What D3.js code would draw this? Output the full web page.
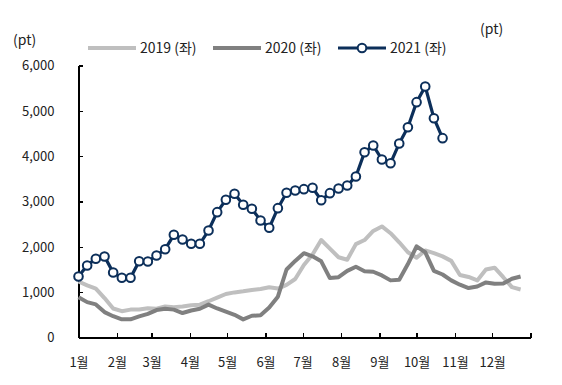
<!DOCTYPE html>
<html>
<meta charset="utf-8">
<style>
    body { margin: 0; background: #fff; }
    svg text { font-family: "Noto Sans CJK KR", "Noto Sans", sans-serif; fill: #222; }
    .axis path, .axis line { fill: none; stroke: #000; stroke-width: 1.2; shape-rendering: crispEdges; }
</style>
<body>
<script src="https://d3js.org/d3.v7.min.js"></script>
<script>

    // weekly index values (pt), first week starts 1 Jan
    var s2019 = [1235, 1150, 1080, 870, 640, 580, 615, 620, 645, 635, 685, 670, 685, 710, 725, 800,
                 880, 960, 995, 1020, 1050, 1070, 1110, 1080, 1160, 1290, 1600, 1830, 2150, 1960, 1770, 1715,
                 2060, 2150, 2350, 2450, 2300, 2100, 1880, 1760, 1920, 1860, 1790, 1690, 1380, 1335, 1260, 1500,
                 1540, 1330, 1110, 1060];
    var s2020 = [890, 780, 730, 560, 470, 400, 400, 465, 520, 605, 635, 615, 540, 595, 635, 725,
                 640, 570, 500, 400, 480, 490, 660, 900, 1500, 1690, 1860, 1790, 1680, 1310, 1330, 1470,
                 1560, 1460, 1450, 1370, 1260, 1275, 1620, 2010, 1880, 1470, 1390, 1260, 1165, 1090, 1125, 1215,
                 1185, 1190, 1295, 1345];
    var s2021 = [1346, 1588, 1736, 1787, 1434, 1317, 1317, 1683, 1677, 1809, 1948, 2265, 2162, 2067, 2067, 2360,
                 2765, 3037, 3170, 2927, 2839, 2581, 2420, 2853, 3192, 3243, 3272, 3302, 3029, 3184, 3287, 3353,
                 3552, 4088, 4236, 3927, 3845, 4280, 4639, 5191, 5537, 4838, 4397];

    var monthLabels = ["1월", "2월", "3월", "4월", "5월", "6월", "7월", "8월", "9월", "10월", "11월", "12월"];
    var yTicks = [0, 1000, 2000, 3000, 4000, 5000, 6000];
    var seriesNames = ["2019 (좌)", "2020 (좌)", "2021 (좌)"];
    var colors = ["#bfbfbf", "#808080", "#0c2f5a"];

    var width = 562, height = 385;
    var yearStart = new Date(2021, 0, 1);

    function weekDate(i) { return d3.timeDay.offset(yearStart, 7 * i); }

    var x = d3.scaleTime()
        .domain([yearStart, new Date(2022, 0, 1)])
        .range([78.5, 530.5]);

    var y = d3.scaleLinear()
        .domain([0, 6000])
        .range([337.5, 65.5]);

    var svg = d3.select("body")
        .append("svg")
        .attr("width", width)
        .attr("height", height);

    var months = d3.timeMonth.range(yearStart, new Date(2022, 0, 2));

    svg.append("g")
        .attr("class", "x axis")
        .attr("transform", "translate(0," + y(0) + ")")
        .call(d3.axisBottom(x)
            .tickValues(months)
            .tickSizeInner(-5)
            .tickSizeOuter(0)
            .tickPadding(20)
            .tickFormat(function(d, i) { return i < 12 ? monthLabels[i] : ""; }))
        .selectAll("text")
        .style("font-size", "13px");

    svg.append("g")
        .attr("class", "y axis")
        .attr("transform", "translate(" + x(yearStart) + ",0)")
        .call(d3.axisLeft(y)
            .tickValues(yTicks)
            .tickSizeInner(-4)
            .tickSizeOuter(0)
            .tickPadding(24)
            .tickFormat(d3.format(",")))
        .selectAll("text")
        .style("font-size", "13px");

    var line = d3.line()
        .x(function(d, i) { return x(weekDate(i)); })
        .y(function(d) { return y(d); });

    svg.append("path")
        .datum(s2019)
        .attr("d", line)
        .attr("fill", "none")
        .attr("stroke", colors[0])
        .attr("stroke-width", 4)
        .attr("stroke-linejoin", "round");

    svg.append("path")
        .datum(s2020)
        .attr("d", line)
        .attr("fill", "none")
        .attr("stroke", colors[1])
        .attr("stroke-width", 4)
        .attr("stroke-linejoin", "round");

    svg.append("path")
        .datum(s2021)
        .attr("d", line)
        .attr("fill", "none")
        .attr("stroke", colors[2])
        .attr("stroke-width", 3.2);

    svg.selectAll("circle.p21")
        .data(s2021)
        .enter()
        .append("circle")
        .attr("class", "p21")
        .attr("cx", function(d, i) { return x(weekDate(i)); })
        .attr("cy", function(d) { return y(d); })
        .attr("r", 4.3)
        .attr("fill", "#fff")
        .attr("stroke", colors[2])
        .attr("stroke-width", 2);

    // unit labels
    svg.append("text").attr("x", 13).attr("y", 45).style("font-size", "14px").text("(pt)");
    svg.append("text").attr("x", 480).attr("y", 34).style("font-size", "14px").text("(pt)");

    // legend
    var legX = [88, 213, 338];
    var legend = svg.selectAll("g.leg")
        .data(seriesNames)
        .enter()
        .append("g")
        .attr("class", "leg")
        .attr("transform", function(d, i) { return "translate(" + legX[i] + ",48)"; });

    legend.append("line")
        .attr("x1", 0).attr("x2", 48)
        .attr("stroke", function(d, i) { return colors[i]; })
        .attr("stroke-width", function(d, i) { return i < 2 ? 4 : 3.2; });

    legend.filter(function(d, i) { return i === 2; })
        .append("circle")
        .attr("cx", 24).attr("r", 4.3)
        .attr("fill", "#fff")
        .attr("stroke", colors[2])
        .attr("stroke-width", 2);

    legend.append("text")
        .attr("x", 52)
        .attr("dy", "0.35em")
        .style("font-size", "14px")
        .text(function(d) { return d; });

</script>
</body>
</html>
